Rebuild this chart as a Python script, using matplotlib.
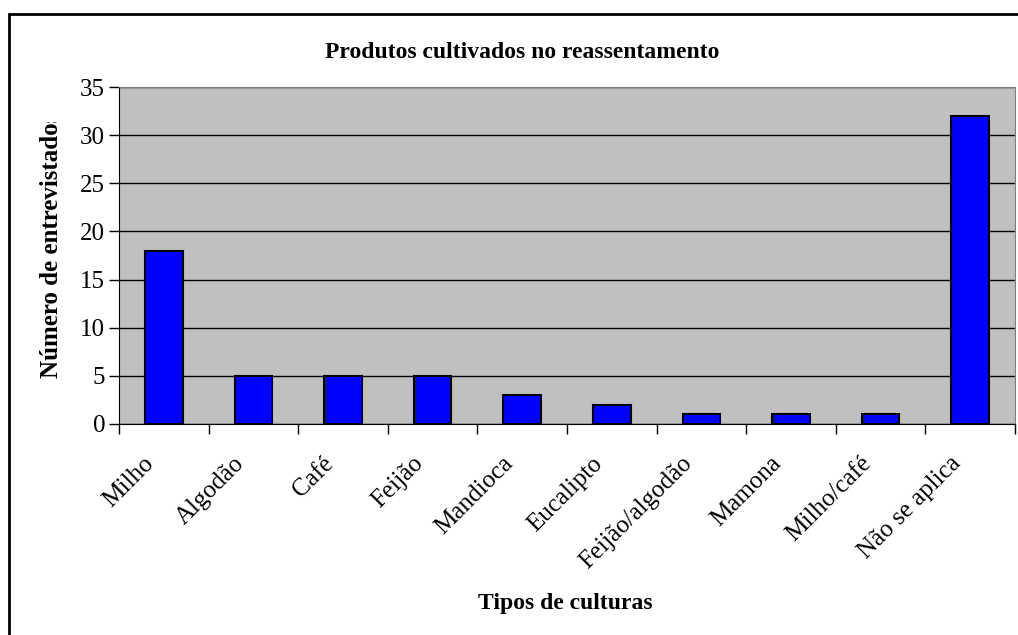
import matplotlib.pyplot as plt
import matplotlib.patches as mpatches
from matplotlib.transforms import Bbox, ScaledTranslation

culturas = ["Milho", "Algodão", "Café", "Feijão", "Mandioca", "Eucalipto",
            "Feijão/algodão", "Mamona", "Milho/café", "Não se aplica"]
entrevistados = [18, 5, 5, 5, 3, 2, 1, 1, 1, 32]

plt.rcParams['font.family'] = ['Liberation Serif', 'DejaVu Serif']

W, H = 1018, 635
fig = plt.figure(figsize=(W / 100, H / 100), dpi=100)
ax = fig.add_axes([119 / W, 1 - 424 / H, 896 / W, 337 / H])

# moldura externa do grafico
fig.patches.append(mpatches.Rectangle((9 / W, -0.1), 1.2, 1 - 14 / H + 0.1,
                                      transform=fig.transFigure, fill=False,
                                      edgecolor="black", linewidth=2))

ax.set_facecolor("#c0c0c0")
x = range(len(culturas))
ax.bar(x, entrevistados, width=0.42, color="#0000ff", edgecolor="black",
       linewidth=1.5, zorder=3)

ax.set_xlim(-0.5, len(culturas) - 0.5)
ax.set_ylim(0, 35)
ax.set_yticks(range(0, 36, 5))
ax.yaxis.grid(True, color="black", linewidth=1, zorder=1)
ax.set_axisbelow(True)

# ticks nas divisas entre categorias
ax.set_xticks([i - 0.5 for i in range(len(culturas) + 1)])
ax.set_xticklabels([])
ax.set_xticks(list(x), minor=True)
ax.set_xticklabels(culturas, minor=True, rotation=45, ha="right",
                   va="center", rotation_mode="anchor", fontsize=18)
ax.tick_params(axis="x", which="minor", length=0, pad=26)
ax.tick_params(axis="x", which="major", length=7, width=1, direction="out")
ax.tick_params(axis="y", length=7, width=1, labelsize=18, pad=3)
shift = ScaledTranslation(-13 / 100, 0, fig.dpi_scale_trans)
for lbl in ax.get_xticklabels(minor=True):
    lbl.set_transform(lbl.get_transform() + shift)

for s in ["top", "right"]:
    ax.spines[s].set_color("#808080")
ax.spines["left"].set_color("black")
ax.spines["bottom"].set_color("black")

fig.text(522 / W, 1 - 52 / H, "Produtos cultivados no reassentamento",
         ha="center", va="center", fontsize=17, fontweight="bold")
fig.text(565 / W, 1 - 603 / H, "Tipos de culturas", ha="center",
         va="center", fontsize=17, fontweight="bold")
ylab = fig.text(52 / W, 1 - 378 / H, "Número de entrevistados", rotation=90,
                ha="center", va="bottom", fontsize=18, fontweight="bold")
ylab.set_clip_box(Bbox.from_extents(0, 0, 200, H - 122))
ylab.set_clip_on(True)

fig.savefig("out.png", dpi=100)
